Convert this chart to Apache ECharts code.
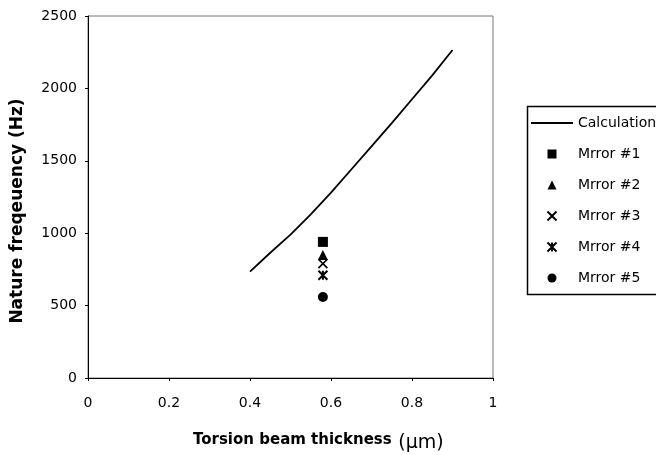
<!DOCTYPE html>
<html><head><meta charset="utf-8">
<script src="https://cdn.jsdelivr.net/npm/echarts@6/dist/echarts.min.js"></script>
<style>html,body{margin:0;padding:0;background:#fff}#c{width:656px;height:455px}</style>
</head><body><div id="c"></div>
<script>
// Data
const calcX = [0.40, 0.45, 0.50, 0.55, 0.60, 0.65, 0.70, 0.75, 0.80, 0.85, 0.90];
const calcY = [735, 865, 990, 1130, 1280, 1440, 1600, 1760, 1925, 2090, 2265];
const mirrorNames = ['Mrror #1', 'Mrror #2', 'Mrror #3', 'Mrror #4', 'Mrror #5'];
const mirrorX = [0.58, 0.58, 0.58, 0.58, 0.58];
const mirrorY = [940, 850, 790, 710, 560];
const xTicks = [0, 0.2, 0.4, 0.6, 0.8, 1];
const yTicks = [0, 500, 1000, 1500, 2000, 2500];

const FONT = '"DejaVu Sans", sans-serif';
const symbols = [
  {symbol: 'path://M0,0L10,0L10,10L0,10Z', size: 10, style: {color: '#000', opacity: 1}},
  {symbol: 'path://M5,0L10,10L0,10Z', size: 10, style: {color: '#000', opacity: 1}},
  {symbol: 'path://M0,0L10,10M10,0L0,10', size: 9, style: {color: 'rgba(0,0,0,0)', borderColor: '#000', borderWidth: 1.6, opacity: 1}},
  {symbol: 'path://M0,0L10,10M10,0L0,10M5,0L5,10', size: 9, style: {color: 'rgba(0,0,0,0)', borderColor: '#000', borderWidth: 2, opacity: 1}},
  {symbol: 'circle', size: 10, style: {color: '#000', opacity: 1}}
];

const series = [{
  name: 'Calculation', type: 'line', symbol: 'none', showSymbol: false,
  data: calcX.map((x, i) => [x, calcY[i]]),
  lineStyle: {color: '#000', width: 1.8}, itemStyle: {color: '#000'}, z: 3
}];
mirrorNames.forEach((n, i) => {
  series.push({
    name: n, type: 'scatter', symbol: symbols[i].symbol, symbolSize: symbols[i].size,
    symbolKeepAspect: true,
    data: [[mirrorX[i], mirrorY[i]]], itemStyle: symbols[i].style, z: 4
  });
});

const chart = echarts.init(document.getElementById('c'), null, {renderer: 'canvas'});
chart.setOption({
  animation: false,
  backgroundColor: '#fff',
  grid: {left: 88, top: 16, width: 405, height: 362, show: true, borderColor: '#777', borderWidth: 1, backgroundColor: 'transparent'},
  xAxis: {
    type: 'value', min: xTicks[0], max: xTicks[xTicks.length - 1], interval: 0.2,
    axisLine: {show: true, onZero: false, lineStyle: {color: '#000', width: 1}},
    axisTick: {show: true, length: 3, lineStyle: {color: '#000'}},
    axisLabel: {color: '#000', fontFamily: FONT, fontSize: 14, margin: 18, formatter: v => String(v)},
    splitLine: {show: false}
  },
  yAxis: {
    type: 'value', min: yTicks[0], max: yTicks[yTicks.length - 1], interval: 500,
    axisLine: {show: true, lineStyle: {color: '#000', width: 1}},
    axisTick: {show: true, length: 3, lineStyle: {color: '#000'}},
    axisLabel: {color: '#000', fontFamily: FONT, fontSize: 14, margin: 11, formatter: v => String(v)},
    splitLine: {show: false}
  },
  legend: {
    orient: 'vertical', left: 531, top: 115, padding: 0,
    itemWidth: 42, itemHeight: 9, itemGap: 15, symbolKeepAspect: true,
    textStyle: {color: '#000', fontFamily: FONT, fontSize: 14, lineHeight: 16},
    data: [{name: 'Calculation', icon: 'path://M0,0L42,0L42,1.8L0,1.8Z'}].concat(mirrorNames.map(n => ({name: n})))
  },
  graphic: [
    {type: 'rect', left: 525, top: 104, z: 1, silent: true,
      shape: {width: 200, height: 188}, style: {fill: 'none', stroke: '#000', lineWidth: 1.5}},
    {type: 'text', x: 18, y: 211, rotation: Math.PI / 2, z: 5,
      style: {text: 'Nature freqeuency (Hz)', font: 'bold 17px "DejaVu Sans", sans-serif', fill: '#000', align: 'center', verticalAlign: 'middle'}},
    {type: 'text', x: 193, y: 440, z: 5,
      style: {text: '{b|Torsion beam thickness}  {n|(μm)}', fill: '#000', verticalAlign: 'middle',
        rich: {b: {fontFamily: FONT, fontWeight: 'bold', fontSize: 15, fill: '#000', color: '#000'},
               n: {fontFamily: FONT, fontSize: 19, fill: '#000', color: '#000', padding: [6, 0, 0, 0]}}}}
  ],
  series: series
});
</script></body></html>
